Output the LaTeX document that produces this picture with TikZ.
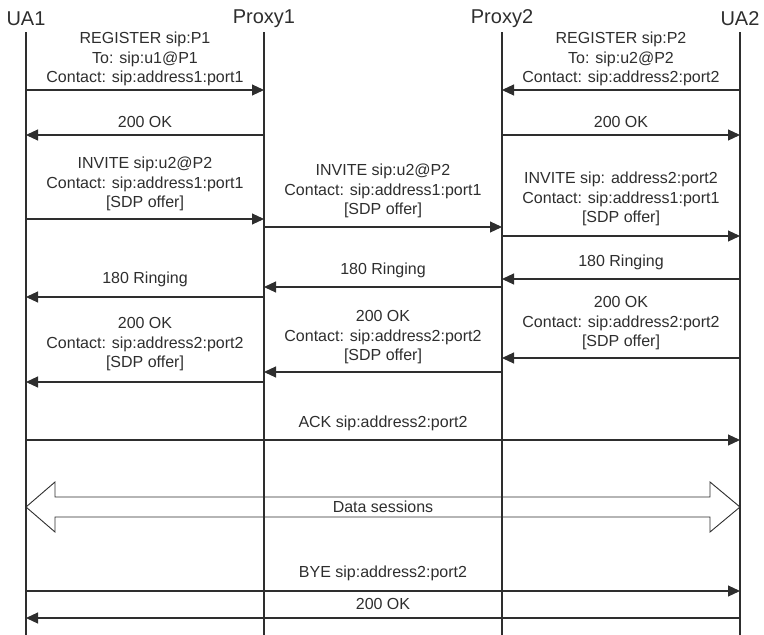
\documentclass[tikz,border=0pt]{standalone}
\usepackage{fontspec}
\setmainfont{Liberation Sans}
\usetikzlibrary{arrows.meta,positioning}
\definecolor{ink}{HTML}{2E2E2E}
\tikzset{
  head/.style={font=\fontsize{20}{22}\selectfont, text=ink, inner sep=0pt},
  msg/.style={font=\fontsize{16}{19.6}\selectfont, text=ink, align=center, inner sep=0pt},
  life/.style={draw=ink, line width=1.1pt},
  sig/.style={draw=ink, line width=1.1pt, -{Triangle[length=12pt,width=11pt]}},
}
\begin{document}
\begin{tikzpicture}[x=1pt, y=-1pt, node distance=238pt]
  \useasboundingbox (0,0) rectangle (764,635);
  % lifeline heads
  \node [head] (ua1) at (26,19) {UA1};
  \node [head] (proxy1) [right of=ua1] {Proxy1};
  \node [head] (proxy2) [right of=proxy1] {Proxy2};
  \node [head] (ua2) [right of=proxy2] {UA2};
  % one point per lifeline and row
  \foreach \l in {ua1,proxy1,proxy2,ua2}
    \foreach \r/\y in {top/32, bot/635, r1/90, r2/135, r3/219, r4/227, r5/236,
                       r6/279, r7/287, r8/297, r9/358, r10/372, r11/382,
                       r12/440, r13/591, r14/618}
      \coordinate (\l-\r) at (\l |- 0,\y);
  \path [life] (ua1-top) edge (ua1-bot);
  \path [life] (proxy1-top) edge (proxy1-bot);
  \path [life] (proxy2-top) edge (proxy2-bot);
  \path [life] (ua2-top) edge (ua2-bot);
  % registration
  \path (ua1-r1) edge [sig] node [msg, above=3.5pt] {REGISTER sip:P1\\To: sip:u1@P1\\Contact: sip:address1:port1} (proxy1-r1);
  \path (ua2-r1) edge [sig] node [msg, above=3.5pt] {REGISTER sip:P2\\To: sip:u2@P2\\Contact: sip:address2:port2} (proxy2-r1);
  \path (proxy1-r2) edge [sig] node [msg, above=7pt] {200 OK} (ua1-r2);
  \path (proxy2-r2) edge [sig] node [msg, above=7pt] {200 OK} (ua2-r2);
  % invite
  \path (ua1-r3) edge [sig] node [msg, above=7.5pt] {INVITE sip:u2@P2\\Contact: sip:address1:port1\\{[SDP offer]}} (proxy1-r3);
  \path (proxy1-r4) edge [sig] node [msg, above=8.5pt] {INVITE sip:u2@P2\\Contact: sip:address1:port1\\{[SDP offer]}} (proxy2-r4);
  \path (proxy2-r5) edge [sig] node [msg, above=9.5pt] {INVITE sip: address2:port2\\Contact: sip:address1:port1\\{[SDP offer]}} (ua2-r5);
  % ringing
  \path (ua2-r6) edge [sig] node [msg, above=8.5pt] {180 Ringing} (proxy2-r6);
  \path (proxy2-r7) edge [sig] node [msg, above=8.5pt] {180 Ringing} (proxy1-r7);
  \path (proxy1-r8) edge [sig] node [msg, above=9.5pt] {180 Ringing} (ua1-r8);
  % answer
  \path (ua2-r9) edge [sig] node [msg, above=7.5pt] {200 OK\\Contact: sip:address2:port2\\{[SDP offer]}} (proxy2-r9);
  \path (proxy2-r10) edge [sig] node [msg, above=7.5pt] {200 OK\\Contact: sip:address2:port2\\{[SDP offer]}} (proxy1-r10);
  \path (proxy1-r11) edge [sig] node [msg, above=10.5pt] {200 OK\\Contact: sip:address2:port2\\{[SDP offer]}} (ua1-r11);
  \path (ua1-r12) edge [sig] node [msg, above=8.5pt] {ACK sip:address2:port2} (ua2-r12);
  % media
  \draw [draw=ink, line width=0.9pt] (26,507) -- (55,482) -- (55,497) -- (710,497) -- (710,482)
    -- (740,507) -- (710,532) -- (710,517) -- (55,517) -- (55,532) -- cycle;
  \node [msg] (data) at (383,507) {Data sessions};
  % teardown
  \path (ua1-r13) edge [sig] node [msg, above=9.5pt] {BYE sip:address2:port2} (ua2-r13);
  \path (ua2-r14) edge [sig] node [msg, above=7.5pt] {200 OK} (ua1-r14);
\end{tikzpicture}
\end{document}
